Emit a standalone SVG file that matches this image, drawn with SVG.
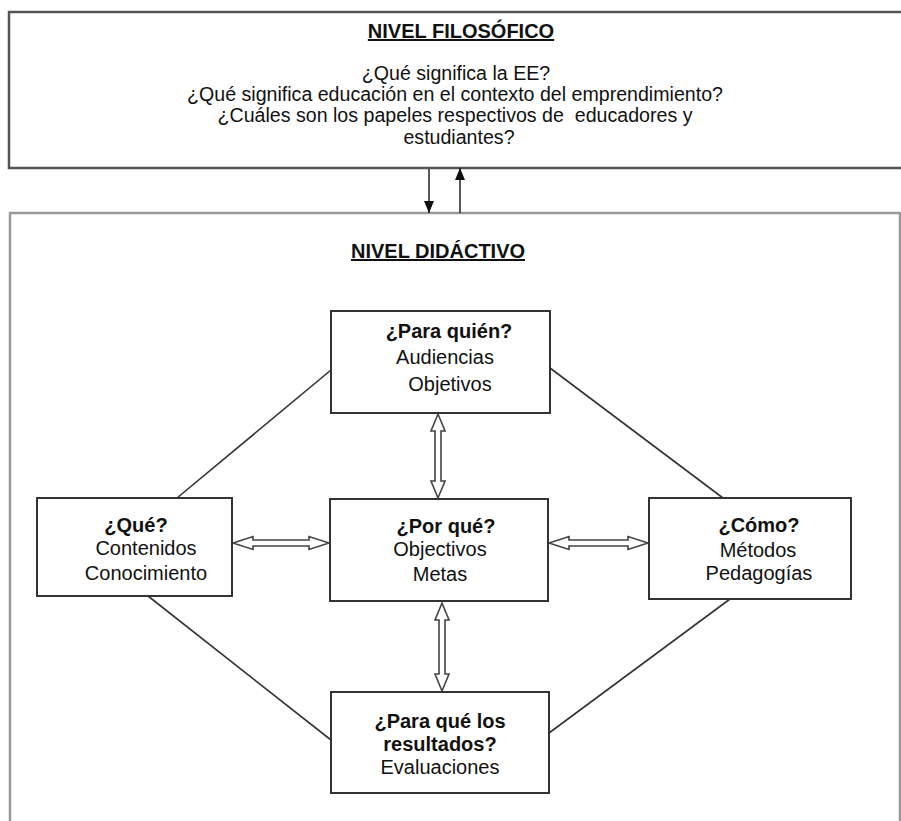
<svg xmlns="http://www.w3.org/2000/svg" width="901" height="821" viewBox="0 0 901 821">
<defs>
<marker id="ah" viewBox="0 0 12 10" refX="12" refY="5" markerWidth="12" markerHeight="10" markerUnits="userSpaceOnUse" orient="auto">
<path d="M0,0 L12,5 L0,10 Z" fill="#111"/>
</marker>
</defs>
<style>
text{font-family:"Liberation Sans",Arial,sans-serif;fill:#111;text-anchor:middle}
.t{font-size:19.6px}
.h{font-size:20px;font-weight:bold;text-decoration:underline}
.b{font-size:20px;font-weight:bold}
.r{font-size:20px}
.box{fill:#fff;stroke:#333;stroke-width:2}
.frame{fill:none;stroke:#999;stroke-width:2.5}
.top{fill:#fff;stroke:#555;stroke-width:2.5}
.ln{stroke:#333;stroke-width:1.6;fill:none}
.ha{fill:#fff;stroke:#444;stroke-width:1.6}
.thin{stroke:#222;stroke-width:1.5;fill:none}
</style>
<rect width="901" height="821" fill="#fff"/>
<g id="nivel-filosofico">
<rect class="top" x="9" y="12" width="900" height="156"/>
<text class="h" x="461" y="38">NIVEL FILOSÓFICO</text>
<text class="t" x="456" y="80">¿Qué significa la EE?</text>
<text class="t" x="455" y="101">¿Qué significa educación en el contexto del emprendimiento?</text>
<text class="t" x="455" y="122" xml:space="preserve">¿Cuáles son los papeles respectivos de  educadores y</text>
<text class="t" x="459" y="144">estudiantes?</text>
</g>
<g id="nivel-didactivo">
<rect class="frame" x="10" y="213" width="890" height="640"/>
<text class="h" x="438" y="258">NIVEL DIDÁCTIVO</text>
</g>
<g id="connectors">
<line class="thin" x1="429" y1="169" x2="429" y2="213" marker-end="url(#ah)"/>
<line class="thin" x1="460" y1="213" x2="460" y2="168" marker-end="url(#ah)"/>
<line class="ln" x1="331" y1="370" x2="177" y2="498"/>
<line class="ln" x1="550" y1="368" x2="723" y2="498"/>
<line class="ln" x1="148" y1="596" x2="331" y2="740"/>
<line class="ln" x1="730" y1="599" x2="549" y2="733"/>
<polygon class="ha" points="438,414 445,431 441,431 441,481 445,481 438,498 431,481 435,481 435,431 431,431"/>
<polygon class="ha" points="442,603 449,620 445,620 445,674 449,674 442,691 435,674 439,674 439,620 435,620"/>
<polygon class="ha" points="233,543 253,536.5 253,540 309,540 309,536.5 329,543 309,549.5 309,546 253,546 253,549.5"/>
<polygon class="ha" points="549,543 569,536.5 569,540 628,540 628,536.5 648,543 628,549.5 628,546 569,546 569,549.5"/>
</g>
<g id="para-quien">
<rect class="box" x="331" y="311" width="219" height="102"/>
<text class="b" x="449" y="338">¿Para quién?</text>
<text class="r" x="445" y="364">Audiencias</text>
<text class="r" x="450" y="391">Objetivos</text>
</g>
<g id="que">
<rect class="box" x="37" y="498" width="195" height="98"/>
<text class="b" x="136" y="532">¿Qué?</text>
<text class="r" x="146" y="555">Contenidos</text>
<text class="r" x="146" y="580">Conocimiento</text>
</g>
<g id="por-que">
<rect class="box" x="330" y="499" width="218" height="102"/>
<text class="b" x="446" y="533">¿Por qué?</text>
<text class="r" x="440" y="556">Objectivos</text>
<text class="r" x="440" y="581">Metas</text>
</g>
<g id="como">
<rect class="box" x="649" y="498" width="202" height="101"/>
<text class="b" x="759" y="532">¿Cómo?</text>
<text class="r" x="758" y="557">Métodos</text>
<text class="r" x="759" y="580">Pedagogías</text>
</g>
<g id="para-que">
<rect class="box" x="331" y="692" width="218" height="101"/>
<text class="b" x="440" y="728">¿Para qué los</text>
<text class="b" x="440" y="751">resultados?</text>
<text class="r" x="440" y="774">Evaluaciones</text>
</g>
</svg>
